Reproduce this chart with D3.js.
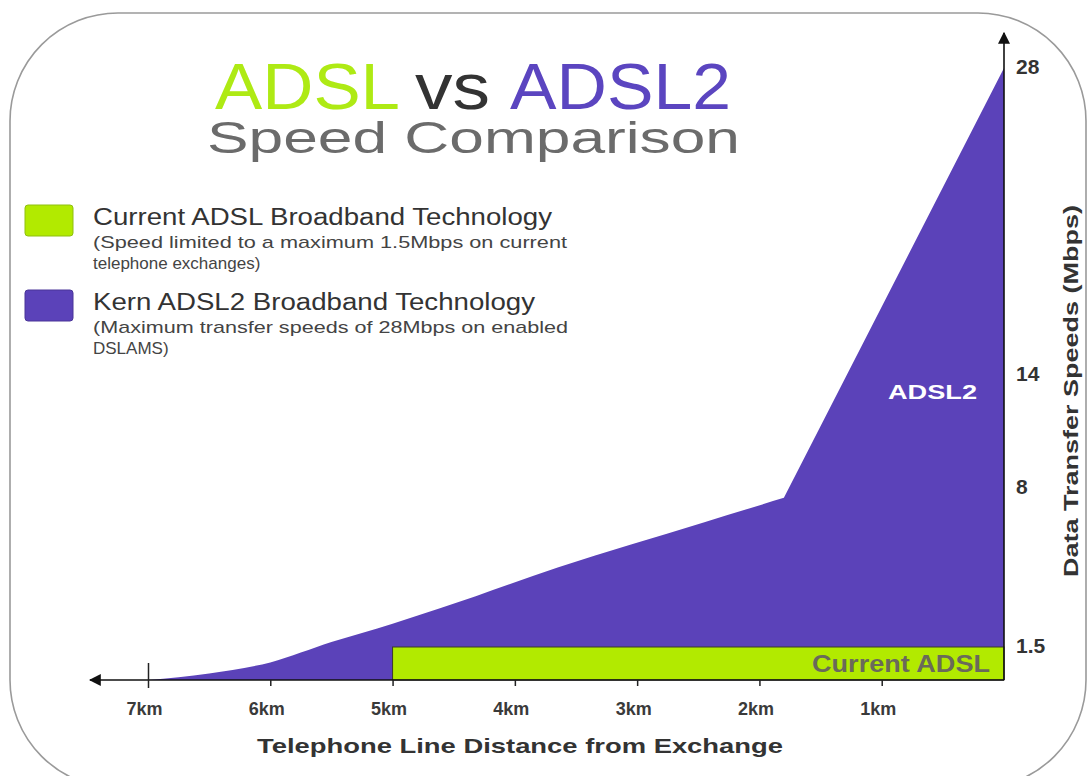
<!DOCTYPE html>
<html>
<head>
<meta charset="utf-8">
<script src="https://cdn.jsdelivr.net/npm/d3@7"></script>
<style>
  html, body { margin: 0; padding: 0; background: #fff; }
  svg { display: block; font-family: "Liberation Sans", Arial, sans-serif; }
</style>
</head>
<body>
<svg id="chart" width="1089" height="776"></svg>
<script>
// Line distance from the exchange (km) and ADSL2 speed (Mbps) along the line
const distances   = [7, 6.5, 6, 5.5, 5, 4.6, 3.65, 2.45, 1.8, 0];
const adsl2Speeds = [0, 0.3, 0.8, 1.7, 2.45, 3.1, 4.75, 6.6, 7.6, 28];

// Current ADSL: flat 1.5 Mbps up to 5 km from the exchange
const adslReach = [5, 0];
const adslSpeed = 1.5;

// Axis ticks
const distanceTicks = [7, 6, 5, 4, 3, 2, 1];
const speedTicks = [1.5, 8, 14, 28];

const purple = "#5b42b9";
const green = "#b2ea00";

const svg = d3.select("#chart");

// Rounded card outline
svg.append("rect")
  .attr("x", 10).attr("y", 13)
  .attr("width", 1076).attr("height", 775)
  .attr("rx", 108).attr("ry", 108)
  .attr("fill", "#fff")
  .attr("stroke", "#9a9a9a")
  .attr("stroke-width", 1.6);

// Scales: distance runs right-to-left, speed axis is stretched between its labelled values
const x = d3.scaleLinear().domain([7, 0]).range([148, 1004]);
const y = d3.scaleLinear().domain([0, 1.5, 8, 14, 28]).range([680, 647, 488, 375, 68]);

// ADSL2 area: smooth rise out to the 1.8 km knee, then a straight climb to 28 Mbps
const pts = distances.map((d, i) => ({ d, v: adsl2Speeds[i] }));
const knee = pts.length - 2;
const smoothEdge = d3.line().x(p => x(p.d)).y(p => y(p.v)).curve(d3.curveMonotoneX);
const straightEdge = d3.line().x(p => x(p.d)).y(p => y(p.v));
const areaPath =
  smoothEdge(pts.slice(0, knee + 1)) +
  straightEdge(pts.slice(knee)).replace(/^M/, "L") +
  `L${x(distances[distances.length - 1])},${y(0)}L${x(distances[0])},${y(0)}Z`;
svg.append("path")
  .attr("d", areaPath)
  .attr("fill", purple);

// Current ADSL bar
svg.append("rect")
  .attr("x", x(adslReach[0]))
  .attr("y", y(adslSpeed))
  .attr("width", x(adslReach[1]) - x(adslReach[0]))
  .attr("height", y(0) - y(adslSpeed))
  .attr("fill", green)
  .attr("stroke", "#3a3a2a")
  .attr("stroke-width", 1);

svg.append("text")
  .attr("x", x(0) - 14)
  .attr("y", y(0) - 8)
  .attr("text-anchor", "end")
  .attr("font-size", 24)
  .attr("font-weight", "bold")
  .attr("fill", "#6a6a5a")
  .attr("textLength", 178)
  .attr("lengthAdjust", "spacingAndGlyphs")
  .text("Current ADSL");

// ADSL2 label inside the area
svg.append("text")
  .attr("x", 888)
  .attr("y", 399)
  .attr("font-size", 21)
  .attr("font-weight", "bold")
  .attr("fill", "#fff")
  .attr("textLength", 89)
  .attr("lengthAdjust", "spacingAndGlyphs")
  .text("ADSL2");

// Arrowhead markers
const defs = svg.append("defs");
defs.append("marker")
  .attr("id", "arrow")
  .attr("viewBox", "0 0 10 10")
  .attr("refX", 9).attr("refY", 5)
  .attr("markerWidth", 12).attr("markerHeight", 12)
  .attr("markerUnits", "userSpaceOnUse")
  .attr("orient", "auto")
  .append("path")
  .attr("d", "M0,0 L10,5 L0,10 Z")
  .attr("fill", "#111");

// X axis line with arrow to the left
svg.append("line")
  .attr("x1", x(0)).attr("y1", y(0))
  .attr("x2", 90).attr("y2", y(0))
  .attr("stroke", "#111").attr("stroke-width", 1.6)
  .attr("marker-end", "url(#arrow)");

// Y axis line with arrow at the top
svg.append("line")
  .attr("x1", x(0)).attr("y1", y(0))
  .attr("x2", x(0)).attr("y2", 33)
  .attr("stroke", "#111").attr("stroke-width", 1.6)
  .attr("marker-end", "url(#arrow)");

// X axis ticks and labels
const xAxis = d3.axisBottom(x)
  .tickValues(distanceTicks)
  .tickFormat(d => d + "km")
  .tickSize(6)
  .tickSizeOuter(0)
  .tickPadding(16);
const gx = svg.append("g")
  .attr("transform", `translate(0,${y(0)})`)
  .call(xAxis);
gx.select(".domain").remove();
gx.selectAll(".tick line").attr("stroke", "#222").attr("stroke-width", 1.5);
gx.selectAll(".tick text")
  .attr("font-family", "Liberation Sans, Arial, sans-serif")
  .attr("font-size", 18)
  .attr("font-weight", "bold")
  .attr("fill", "#3a3a3a")
  .attr("dx", -4);
// taller start tick at 7 km
gx.selectAll(".tick").filter(d => d === 7).select("line")
  .attr("y1", -17).attr("y2", 8);

// Y axis labels
const yAxis = d3.axisRight(y)
  .tickValues(speedTicks)
  .tickFormat(d => String(d))
  .tickSize(0)
  .tickPadding(12);
const gy = svg.append("g")
  .attr("transform", `translate(${x(0)},0)`)
  .call(yAxis);
gy.select(".domain").remove();
gy.selectAll(".tick text")
  .attr("font-family", "Liberation Sans, Arial, sans-serif")
  .attr("font-size", 21)
  .attr("font-weight", "bold")
  .attr("fill", "#333")
  .attr("dy", "0.25em");

// Axis titles
svg.append("text")
  .attr("x", 520).attr("y", 753)
  .attr("text-anchor", "middle")
  .attr("font-size", 21)
  .attr("font-weight", "bold")
  .attr("fill", "#333")
  .attr("textLength", 526)
  .attr("lengthAdjust", "spacingAndGlyphs")
  .text("Telephone Line Distance from Exchange");

svg.append("text")
  .attr("transform", "translate(1078,391) rotate(-90)")
  .attr("text-anchor", "middle")
  .attr("font-size", 20)
  .attr("font-weight", "bold")
  .attr("fill", "#333")
  .attr("textLength", 372)
  .attr("lengthAdjust", "spacingAndGlyphs")
  .text("Data Transfer Speeds (Mbps)");

// Title
const title = [
  { t: "ADSL",  x: 215, w: 185, c: "#aeea14" },
  { t: "vs",    x: 415, w: 75,  c: "#333333" },
  { t: "ADSL2", x: 510, w: 221, c: "#5b45c0" }
];
svg.selectAll("text.title")
  .data(title)
  .join("text")
  .attr("class", "title")
  .attr("x", d => d.x).attr("y", 109)
  .attr("font-size", 64)
  .attr("fill", d => d.c)
  .attr("textLength", d => d.w)
  .attr("lengthAdjust", "spacingAndGlyphs")
  .text(d => d.t);

svg.append("text")
  .attr("x", 207).attr("y", 153)
  .attr("font-size", 44)
  .attr("fill", "#6b6b6b")
  .attr("textLength", 533)
  .attr("lengthAdjust", "spacingAndGlyphs")
  .text("Speed Comparison");

// Legend
const legend = [
  { c: green,  border: "#8fbf10", y: 205, head: "Current ADSL Broadband Technology", headW: 459,
    lines: ["(Speed limited to a maximum 1.5Mbps on current", "telephone exchanges)"], lineW: [474, 0] },
  { c: purple, border: "#4a3598", y: 290, head: "Kern ADSL2 Broadband Technology", headW: 442,
    lines: ["(Maximum transfer speeds of 28Mbps on enabled", "DSLAMS)"], lineW: [475, 0] }
];
const lg = svg.selectAll("g.legend")
  .data(legend)
  .join("g")
  .attr("class", "legend")
  .attr("transform", d => `translate(0,${d.y})`);
lg.append("rect")
  .attr("x", 25).attr("y", 0)
  .attr("width", 48).attr("height", 31)
  .attr("rx", 3)
  .attr("fill", d => d.c)
  .attr("stroke", d => d.border)
  .attr("stroke-width", 1);
lg.append("text")
  .attr("x", 93).attr("y", 20)
  .attr("font-size", 23)
  .attr("fill", "#333")
  .attr("textLength", d => d.headW)
  .attr("lengthAdjust", "spacingAndGlyphs")
  .text(d => d.head);
lg.each(function (d) {
  const g = d3.select(this);
  d.lines.forEach((l, i) => {
    const t = g.append("text")
      .attr("x", 93).attr("y", 43 + i * 21)
      .attr("font-size", 17)
      .attr("fill", "#444")
      .text(l);
    if (d.lineW[i]) t.attr("textLength", d.lineW[i]).attr("lengthAdjust", "spacingAndGlyphs");
  });
});
</script>
</body>
</html>
